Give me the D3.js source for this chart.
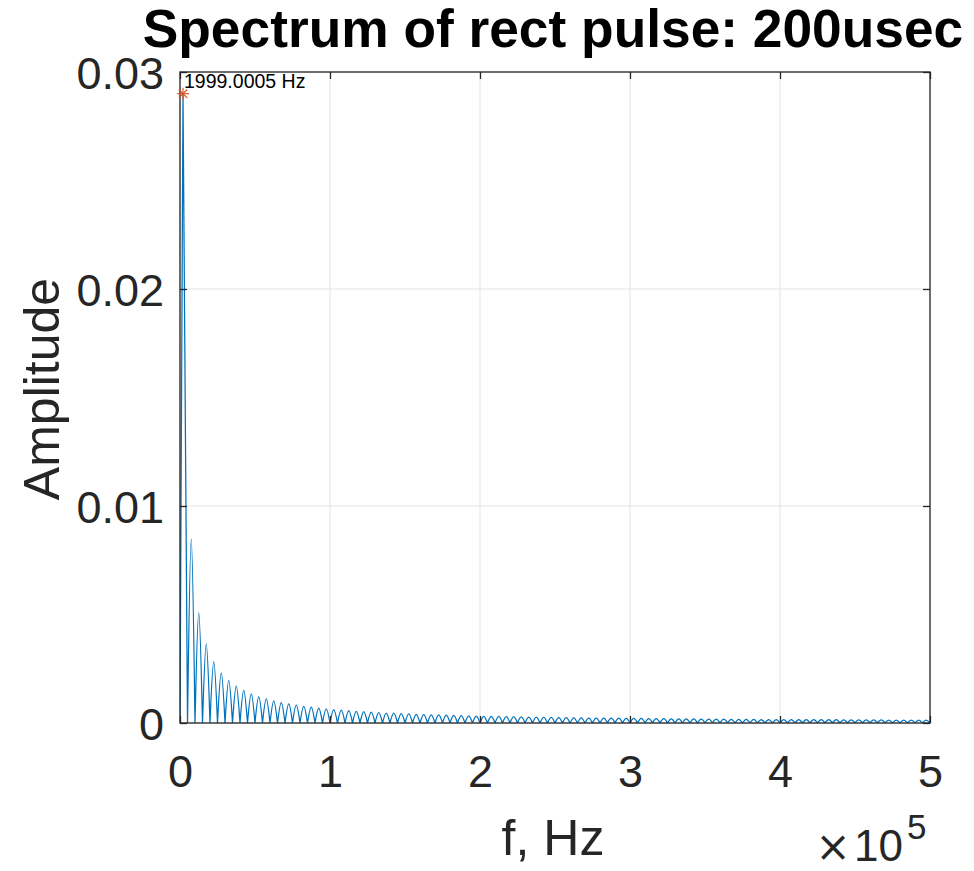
<!DOCTYPE html>
<html>
<head>
<meta charset="utf-8">
<script src="https://cdn.jsdelivr.net/npm/d3@7"></script>
<style>
  html, body { margin: 0; padding: 0; background: #fff; }
  svg { display: block; font-family: "Liberation Sans", Arial, Helvetica, sans-serif; }
</style>
</head>
<body>
<svg id="chart" width="974" height="871"></svg>
<script>
// ---------------- data ----------------
const titleText = "Spectrum of rect pulse: 200usec";
const xLabel = "f, Hz";
const yLabel = "Amplitude";
const xTicks = [0, 100000, 200000, 300000, 400000, 500000];
const xTickLabels = ["0", "1", "2", "3", "4", "5"];
const yTicks = [0, 0.01, 0.02, 0.03];
const yTickLabels = ["0", "0.01", "0.02", "0.03"];
const xDomain = [0, 500000];
const yDomain = [0, 0.03];

// main lobe samples [f (Hz), amplitude]
const mainLobeF = [0, 1999, 5000];
const mainLobeA = [0, 0.029, 0];

// spacing of spectral nulls (1 / 200 usec)
const lobeSpacingHz = 5000;
// peak amplitude of each side lobe, lobe 1 .. lobe 99
const sideLobePeaks = [
  0.00849, 0.00509, 0.00364, 0.00283, 0.00231, 0.00196, 0.00170, 0.00150, 0.00134, 0.00121,
  0.00111, 0.00102, 0.00094, 0.00088, 0.00082, 0.00077, 0.00073, 0.00069, 0.00065, 0.00062,
  0.00059, 0.00057, 0.00054, 0.00052, 0.00050, 0.00048, 0.00046, 0.00045, 0.00043, 0.00042,
  0.00040, 0.00039, 0.00038, 0.00037, 0.00036, 0.00035, 0.00034, 0.00033, 0.00032, 0.00031,
  0.00031, 0.00030, 0.00029, 0.00029, 0.00028, 0.00027, 0.00027, 0.00026, 0.00026, 0.00025,
  0.00025, 0.00024, 0.00024, 0.00023, 0.00023, 0.00023, 0.00022, 0.00022, 0.00021, 0.00021,
  0.00021, 0.00020, 0.00020, 0.00020, 0.00019, 0.00019, 0.00019, 0.00019, 0.00018, 0.00018,
  0.00018, 0.00018, 0.00017, 0.00017, 0.00017, 0.00017, 0.00016, 0.00016, 0.00016, 0.00016,
  0.00016, 0.00015, 0.00015, 0.00015, 0.00015, 0.00015, 0.00015, 0.00014, 0.00014, 0.00014,
  0.00014, 0.00014, 0.00014, 0.00013, 0.00013, 0.00013, 0.00013, 0.00013, 0.00013
];

// data-tip marker
const markerF = 1999.0005;
const markerA = 0.029;
const markerLabel = "1999.0005 Hz";

// ---------------- layout ----------------
const svg = d3.select("#chart");
const plot = { left: 180, right: 930, top: 72, bottom: 723 };
const textColor = "#262626";
const lineColor = "#0072BD";
const markerColor = "#D95319";

const x = d3.scaleLinear().domain(xDomain).range([plot.left, plot.right]);
const y = d3.scaleLinear().domain(yDomain).range([plot.bottom, plot.top]);

// grid
const grid = svg.append("g");
grid.selectAll("line.gx").data(xTicks).join("line")
  .attr("x1", d => x(d)).attr("x2", d => x(d))
  .attr("y1", plot.top).attr("y2", plot.bottom)
  .attr("stroke", "#e3e3e3").attr("stroke-width", 1);
grid.selectAll("line.gy").data(yTicks).join("line")
  .attr("y1", d => y(d)).attr("y2", d => y(d))
  .attr("x1", plot.left).attr("x2", plot.right)
  .attr("stroke", "#e3e3e3").attr("stroke-width", 1);

// clip
svg.append("clipPath").attr("id", "clip").append("rect")
  .attr("x", plot.left).attr("y", plot.top - 2)
  .attr("width", plot.right - plot.left).attr("height", plot.bottom - plot.top + 2);

// curve
const lobes = [];
lobes.push(mainLobeF.map((f, i) => [f, mainLobeA[i]]));
sideLobePeaks.forEach((p, i) => {
  const k = i + 1;
  lobes.push([[k * lobeSpacingHz, 0], [k * lobeSpacingHz + lobeSpacingHz / 2, p], [(k + 1) * lobeSpacingHz, 0]]);
});
const mainLine = d3.line().x(d => x(d[0])).y(d => y(d[1]));
const lobeLine = d3.line().x(d => x(d[0])).y(d => y(d[1])).curve(d3.curveMonotoneX);
const pathD = lobes.map((l, i) => i === 0 ? mainLine(l) : lobeLine(l)).join("");
svg.append("path")
  .attr("d", pathD)
  .attr("fill", "none")
  .attr("stroke", lineColor)
  .attr("stroke-width", 1.25)
  .attr("stroke-linejoin", "round")
  .attr("clip-path", "url(#clip)");

// axes (ticks inside, box on)
function styleAxis(g) {
  g.select(".domain").remove();
  g.selectAll(".tick line").attr("stroke", textColor).attr("stroke-width", 1.3);
  g.selectAll(".tick text").attr("fill", textColor).attr("font-size", 45)
    .attr("font-family", "'Liberation Sans', Arial, Helvetica, sans-serif");
}
const xAxis = d3.axisBottom(x).tickValues(xTicks).tickSizeInner(-7).tickSizeOuter(0)
  .tickPadding(0).tickFormat((d, i) => xTickLabels[i]);
const gx = svg.append("g").attr("transform", `translate(0,${plot.bottom})`).call(xAxis);
styleAxis(gx);
gx.selectAll(".tick text").attr("dy", null).attr("y", 64);

const yAxis = d3.axisLeft(y).tickValues(yTicks).tickSizeInner(-7).tickSizeOuter(0)
  .tickPadding(0).tickFormat((d, i) => yTickLabels[i]);
const gy = svg.append("g").attr("transform", `translate(${plot.left},0)`).call(yAxis);
styleAxis(gy);
gy.selectAll(".tick text").attr("x", -16).attr("dy", "0.36em");

const gxt = svg.append("g").attr("transform", `translate(0,${plot.top})`)
  .call(d3.axisTop(x).tickValues(xTicks).tickSizeInner(-7).tickSizeOuter(0).tickFormat(""));
styleAxis(gxt);
const gyr = svg.append("g").attr("transform", `translate(${plot.right},0)`)
  .call(d3.axisRight(y).tickValues(yTicks).tickSizeInner(-7).tickSizeOuter(0).tickFormat(""));
styleAxis(gyr);

svg.append("rect")
  .attr("x", plot.left).attr("y", plot.top)
  .attr("width", plot.right - plot.left).attr("height", plot.bottom - plot.top)
  .attr("fill", "none").attr("stroke", textColor).attr("stroke-width", 1.3);

// marker + data tip text
const mx = x(markerF), my = y(markerA);
const ms = 6;
const mk = svg.append("g").attr("stroke", markerColor).attr("stroke-width", 1.1);
mk.append("line").attr("x1", mx - ms).attr("x2", mx + ms).attr("y1", my).attr("y2", my);
mk.append("line").attr("x1", mx).attr("x2", mx).attr("y1", my - ms).attr("y2", my + ms);
mk.append("line").attr("x1", mx - ms * 0.7).attr("x2", mx + ms * 0.7).attr("y1", my - ms * 0.7).attr("y2", my + ms * 0.7);
mk.append("line").attr("x1", mx - ms * 0.7).attr("x2", mx + ms * 0.7).attr("y1", my + ms * 0.7).attr("y2", my - ms * 0.7);
svg.append("text")
  .attr("x", mx + 1).attr("y", 88)
  .attr("font-size", 19.5).attr("fill", "#000")
  .text(markerLabel);

// title
svg.append("text")
  .attr("x", 553).attr("y", 47)
  .attr("text-anchor", "middle")
  .attr("font-size", 53.3).attr("font-weight", "bold").attr("fill", "#000")
  .text(titleText);

// axis labels
svg.append("text")
  .attr("x", 553).attr("y", 855)
  .attr("text-anchor", "middle")
  .attr("font-size", 50).attr("fill", textColor)
  .text(xLabel);
svg.append("text")
  .attr("transform", `translate(59,389) rotate(-90)`)
  .attr("text-anchor", "middle")
  .attr("font-size", 50).attr("fill", textColor)
  .text(yLabel);

// exponent
svg.append("text")
  .attr("x", 903).attr("y", 861)
  .attr("text-anchor", "end")
  .attr("font-size", 44).attr("fill", textColor)
  .text("10");
svg.append("text")
  .attr("x", 833).attr("y", 861)
  .attr("text-anchor", "middle")
  .attr("font-family", "'DejaVu Sans', sans-serif")
  .attr("font-size", 42).attr("fill", textColor)
  .text("\u00d7");
svg.append("text")
  .attr("x", 907).attr("y", 839)
  .attr("font-size", 35).attr("fill", textColor)
  .text("5");
</script>
</body>
</html>
